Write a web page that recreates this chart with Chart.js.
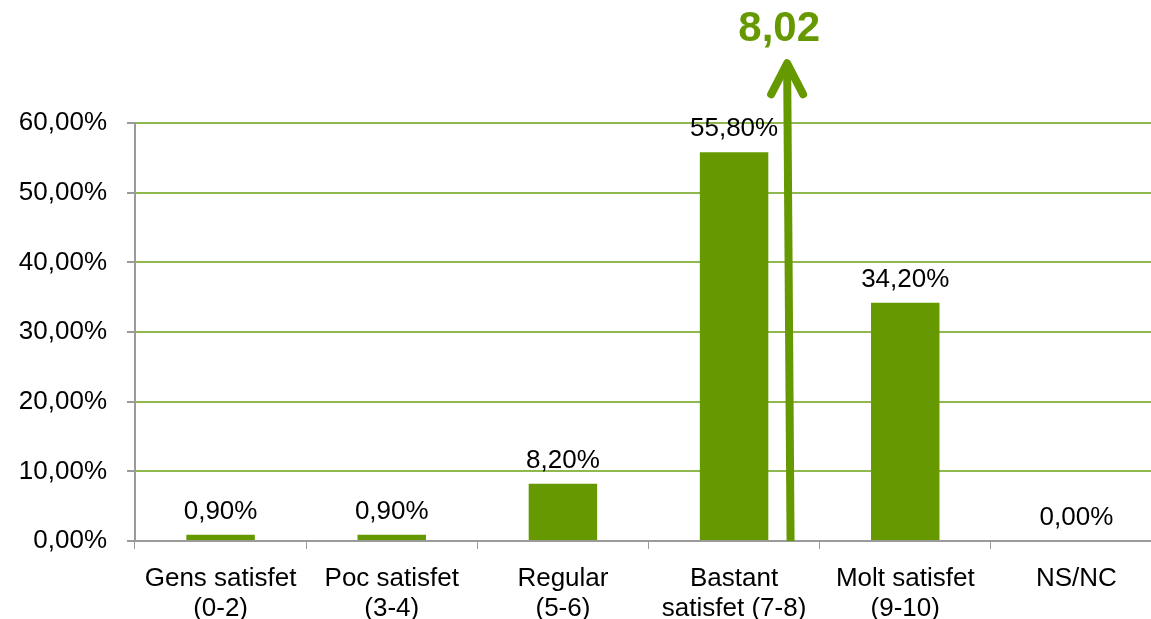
<!DOCTYPE html>
<html>
<head>
<meta charset="utf-8">
<script src="https://cdn.jsdelivr.net/npm/chart.js@4/dist/chart.umd.min.js"></script>
<style>
html,body{margin:0;padding:0;background:#fff;overflow:hidden;}
#wrap{position:relative;width:1162px;height:619px;}
</style>
</head>
<body>
<div id="wrap"><canvas id="c" width="1162" height="619"></canvas></div>
<script>
const categories = [["Gens satisfet","(0-2)"],["Poc satisfet","(3-4)"],["Regular","(5-6)"],["Bastant","satisfet (7-8)"],["Molt satisfet","(9-10)"],["NS/NC"]];
const values = [0.9, 0.9, 8.2, 55.8, 34.2, 0.0];
const yTicks = [0, 10, 20, 30, 40, 50, 60];
const meanLabel = "8,02";
// annotation arrow: category-unit x and percent y
const arrowXBottom = 3.33, arrowXTop = 3.31, arrowTopValue = 69;

const green = "#669900";
const gridGreen = "#8fb84f";
const axisGray = "#9a9a9a";
const FONT = '"Liberation Sans", Arial, sans-serif';
const fmt = v => v.toFixed(2).replace('.', ',') + '%';

const labelsPlugin = {
  id: 'labels',
  afterDatasetsDraw(chart) {
    const ctx = chart.ctx;
    const meta = chart.getDatasetMeta(0);
    ctx.save();
    ctx.font = '26px ' + FONT;
    ctx.fillStyle = '#000';
    ctx.textAlign = 'center';
    ctx.textBaseline = 'middle';
    meta.data.forEach((bar, i) => {
      ctx.fillText(fmt(values[i]), bar.x, bar.y - 23);
    });
    ctx.restore();
  }
};

const arrowPlugin = {
  id: 'arrow',
  afterDraw(chart) {
    const ctx = chart.ctx;
    const xs = chart.scales.x, ys = chart.scales.y;
    const xb = xs.getPixelForValue(arrowXBottom), yb = ys.getPixelForValue(0);
    const xt = xs.getPixelForValue(arrowXTop), yt = ys.getPixelForValue(arrowTopValue);
    ctx.save();
    ctx.strokeStyle = green;
    ctx.lineWidth = 8;
    ctx.beginPath();
    ctx.moveTo(xb, yb);
    ctx.lineTo(xt, yt + 4);
    ctx.stroke();
    ctx.lineCap = 'round';
    ctx.lineJoin = 'round';
    ctx.beginPath();
    ctx.moveTo(xt - 16, yt + 34);
    ctx.lineTo(xt, yt + 3);
    ctx.lineTo(xt + 16, yt + 34);
    ctx.stroke();
    ctx.fillStyle = green;
    ctx.font = 'bold 42px ' + FONT;
    ctx.textAlign = 'center';
    ctx.textBaseline = 'middle';
    ctx.fillText(meanLabel, xt - 8, yt - 31);
    ctx.restore();
  }
};

new Chart(document.getElementById('c'), {
  type: 'bar',
  data: {
    labels: categories,
    datasets: [{
      data: values,
      backgroundColor: green,
      borderWidth: 0,
      barPercentage: 0.4,
      categoryPercentage: 1.0
    }]
  },
  options: {
    responsive: false,
    animation: false,
    layout: { padding: { top: 123, right: 0, bottom: 0, left: 0 } },
    plugins: { legend: { display: false }, tooltip: { enabled: false } },
    scales: {
      x: {
        grid: { display: true, drawOnChartArea: false, color: axisGray, tickLength: 8, offset: true },
        border: { color: axisGray, width: 2 },
        ticks: { color: '#000', font: { family: FONT, size: 26, lineHeight: 1.15 }, padding: 15, maxRotation: 0, autoSkip: false },
        afterFit(s) { s.height = 78; }
      },
      y: {
        min: 0, max: 60,
        afterBuildTicks(s) { s.ticks = yTicks.map(v => ({ value: v })); },
        grid: {
          color: ctx => ctx.tick && ctx.tick.value === 0 ? axisGray : gridGreen,
          tickColor: axisGray,
          tickLength: 8,
          lineWidth: 2
        },
        border: { color: axisGray, width: 2 },
        ticks: { color: '#000', font: { family: FONT, size: 26 }, padding: 20, callback: v => fmt(v) },
        afterFit(s) { s.width = 135; }
      }
    }
  },
  plugins: [labelsPlugin, arrowPlugin]
});
</script>
</body>
</html>
